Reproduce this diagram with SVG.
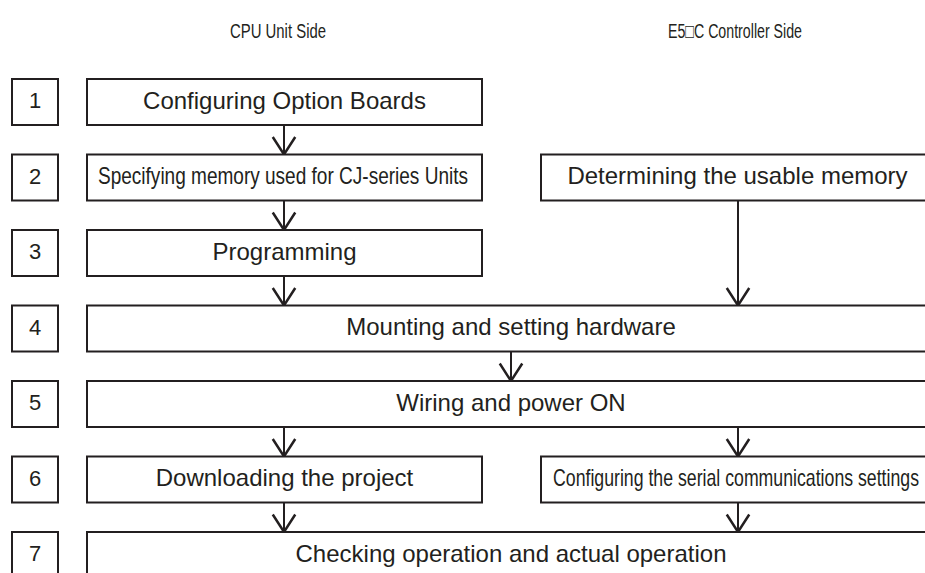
<svg xmlns="http://www.w3.org/2000/svg" width="925" height="573" viewBox="0 0 925 573">
<defs>
<style>
.box{fill:#fff;stroke:#231f20;stroke-width:2}
.t{font-family:"Liberation Sans",Arial,sans-serif;font-size:24px;fill:#231f20;text-anchor:middle}
.n{font-family:"Liberation Sans",Arial,sans-serif;font-size:22px;fill:#231f20;text-anchor:middle}
.h{font-family:"Liberation Sans","DejaVu Sans",Arial,sans-serif;font-size:20px;fill:#231f20;text-anchor:middle}
.c{stroke:#231f20;stroke-width:2;fill:none}
</style>
<marker id="ah" markerUnits="userSpaceOnUse" markerWidth="30" markerHeight="30" viewBox="-16 -12 18 24" refX="0" refY="0" orient="auto" overflow="visible">
<path d="M-14,-9 L0,0 L-14,9" fill="none" stroke="#231f20" stroke-width="2"/>
</marker>
</defs>
<rect width="925" height="573" fill="#fff"/>
<g id="headers">
<text class="h" x="278" y="38" textLength="96" lengthAdjust="spacingAndGlyphs">CPU Unit Side</text>
<text class="h" x="735" y="38" textLength="134" lengthAdjust="spacingAndGlyphs">E5□C Controller Side</text>
</g>
<g id="connectors">
<line class="c" x1="284" y1="125" x2="284" y2="154.5" marker-end="url(#ah)"/>
<line class="c" x1="284" y1="200.5" x2="284" y2="230" marker-end="url(#ah)"/>
<line class="c" x1="284" y1="276" x2="284" y2="305.5" marker-end="url(#ah)"/>
<line class="c" x1="738" y1="200.5" x2="738" y2="305.5" marker-end="url(#ah)"/>
<line class="c" x1="511" y1="351.5" x2="511" y2="381" marker-end="url(#ah)"/>
<line class="c" x1="284" y1="427" x2="284" y2="456.5" marker-end="url(#ah)"/>
<line class="c" x1="738" y1="427" x2="738" y2="456.5" marker-end="url(#ah)"/>
<line class="c" x1="284" y1="502.5" x2="284" y2="532" marker-end="url(#ah)"/>
<line class="c" x1="738" y1="502.5" x2="738" y2="532" marker-end="url(#ah)"/>
</g>
<g id="step1">
<rect class="box" x="12" y="79" width="46" height="46"/>
<text class="n" x="35" y="108">1</text>
<rect class="box" x="87" y="79" width="395" height="46"/>
<text class="t" x="284.5" y="108.5">Configuring Option Boards</text>
</g>
<g id="step2">
<rect class="box" x="12" y="154.5" width="46" height="46"/>
<text class="n" x="35" y="183.5">2</text>
<rect class="box" x="87" y="154.5" width="395" height="46"/>
<text class="t" x="283" y="184" textLength="370" lengthAdjust="spacingAndGlyphs">Specifying memory used for CJ-series Units</text>
<rect class="box" x="541" y="154.5" width="395" height="46"/>
<text class="t" x="737.5" y="184">Determining the usable memory</text>
</g>
<g id="step3">
<rect class="box" x="12" y="230" width="46" height="46"/>
<text class="n" x="35" y="259">3</text>
<rect class="box" x="87" y="230" width="395" height="46"/>
<text class="t" x="284.5" y="259.5">Programming</text>
</g>
<g id="step4">
<rect class="box" x="12" y="305.5" width="46" height="46"/>
<text class="n" x="35" y="334.5">4</text>
<rect class="box" x="87" y="305.5" width="849" height="46"/>
<text class="t" x="511" y="335">Mounting and setting hardware</text>
</g>
<g id="step5">
<rect class="box" x="12" y="381" width="46" height="46"/>
<text class="n" x="35" y="410">5</text>
<rect class="box" x="87" y="381" width="849" height="46"/>
<text class="t" x="511" y="410.5">Wiring and power ON</text>
</g>
<g id="step6">
<rect class="box" x="12" y="456.5" width="46" height="46"/>
<text class="n" x="35" y="485.5">6</text>
<rect class="box" x="87" y="456.5" width="395" height="46"/>
<text class="t" x="284.5" y="486">Downloading the project</text>
<rect class="box" x="541" y="456.5" width="395" height="46"/>
<text class="t" x="736" y="486" textLength="366" lengthAdjust="spacingAndGlyphs">Configuring the serial communications settings</text>
</g>
<g id="step7">
<rect class="box" x="12" y="532" width="46" height="46"/>
<text class="n" x="35" y="561">7</text>
<rect class="box" x="87" y="532" width="849" height="46"/>
<text class="t" x="511" y="561.5">Checking operation and actual operation</text>
</g>
</svg>
